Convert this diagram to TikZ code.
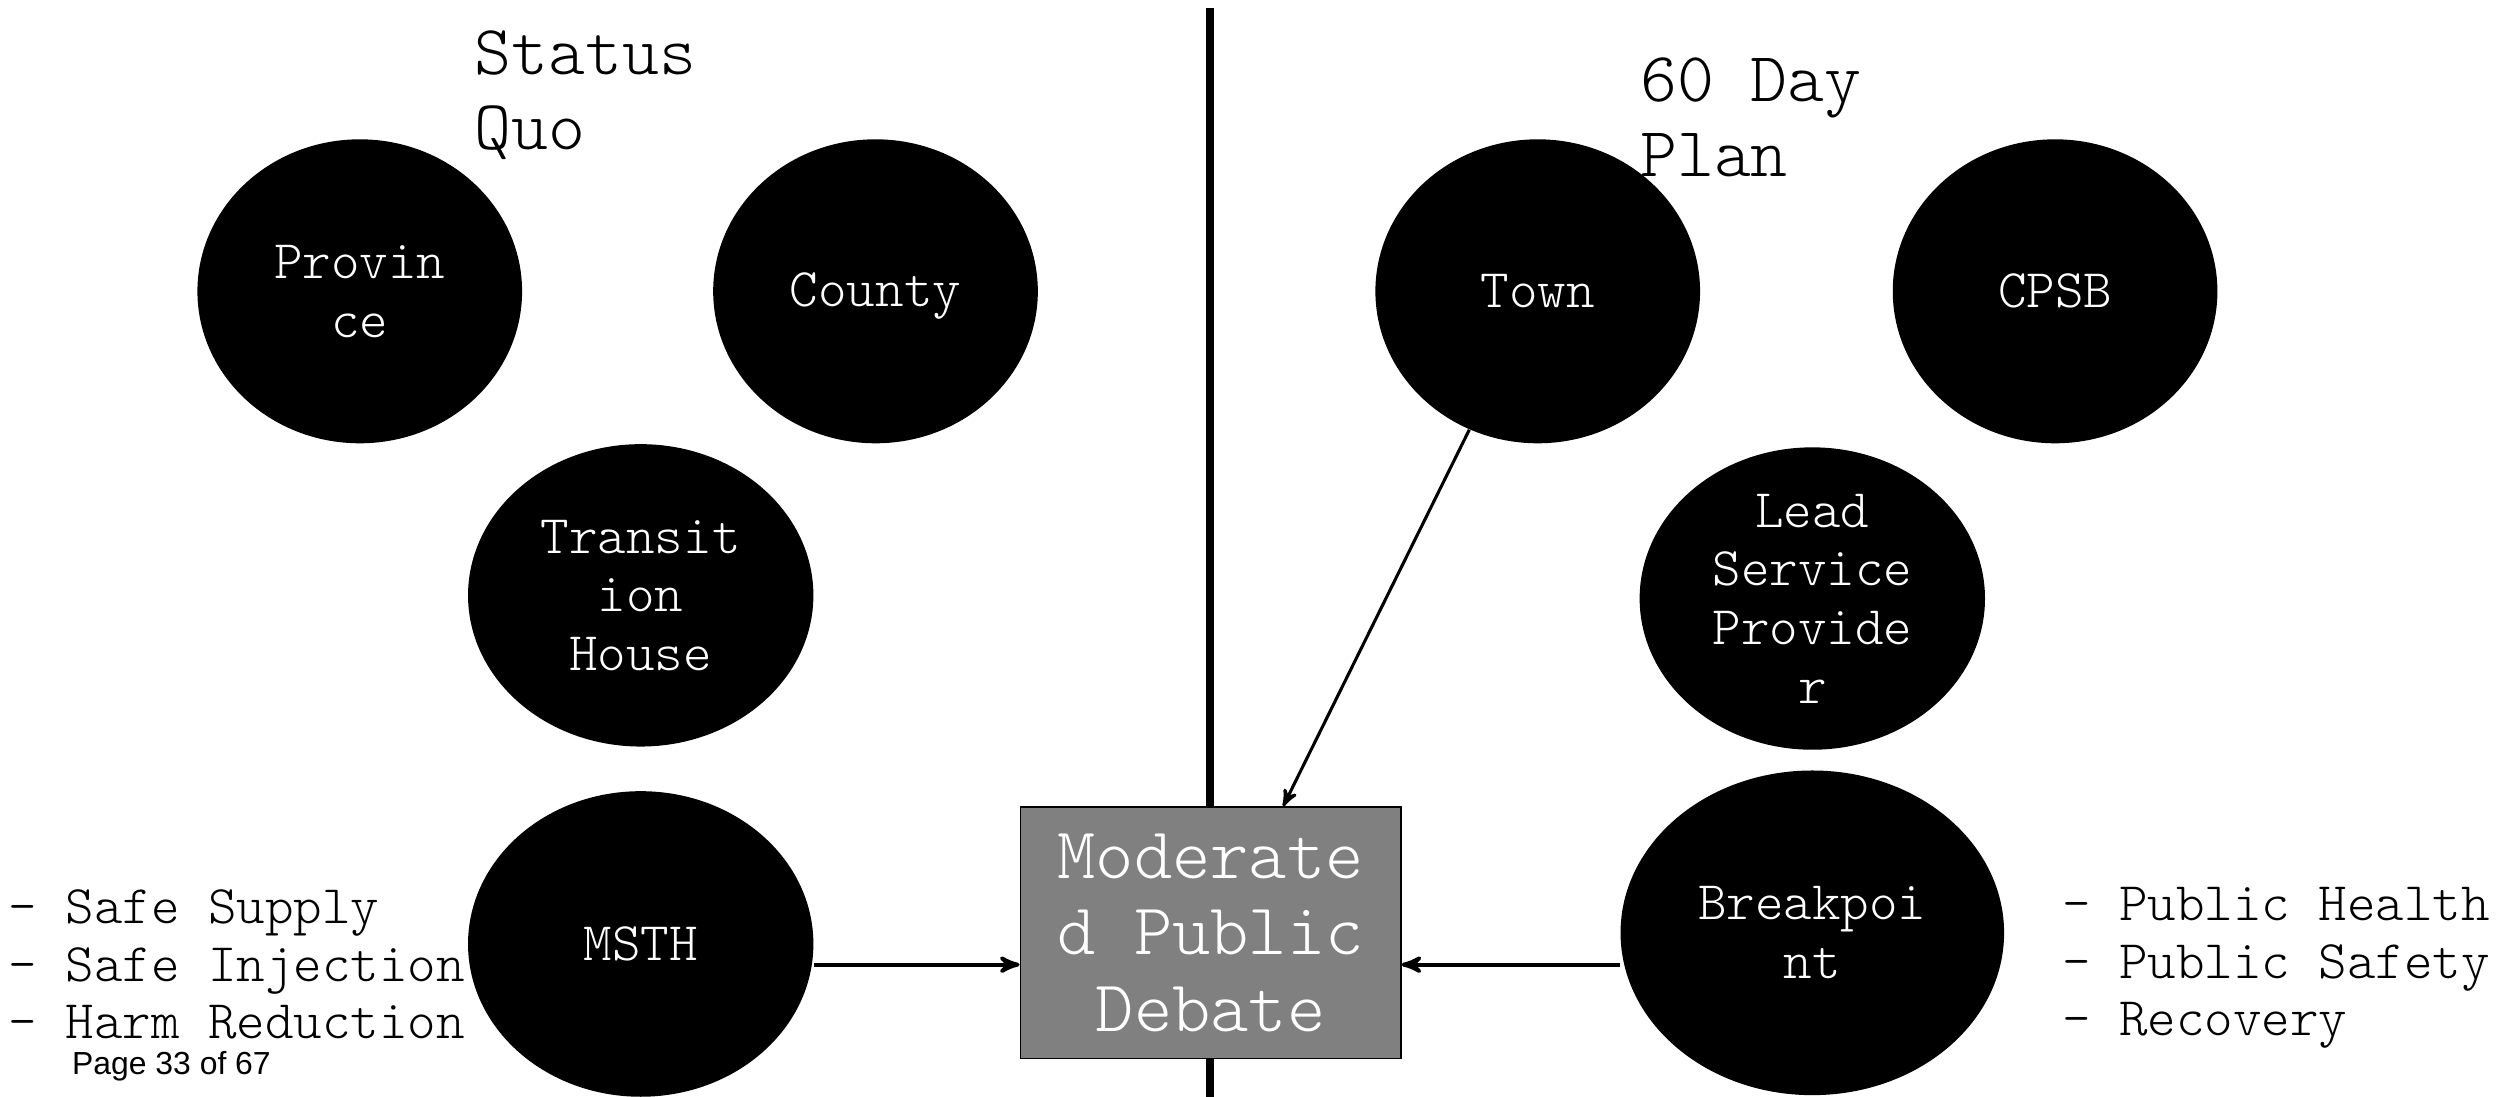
\documentclass[tikz,border=0pt]{standalone}
\usepackage{fontspec}
\setmonofont[Scale=1.143]{Latin Modern Mono Light}
\newfontfamily\pagefont{Liberation Sans}
\usetikzlibrary{shapes.geometric,arrows,calc,positioning}
\tikzset{
  party/.style   = {shape=ellipse, fill=black, inner sep=0pt,
                    minimum width=4.08cm, minimum height=3.82cm},
  wide/.style    = {party, minimum width=4.34cm, minimum height=3.8cm},
  inside/.style  = {text=white, align=center, inner sep=0pt,
                    font=\ttfamily\fontsize{17}{21}\selectfont},
  debate/.style  = {shape=rectangle, draw, line width=0.6pt, fill=gray,
                    text=white, align=center, inner sep=0pt,
                    minimum width=4.78cm, minimum height=3.16cm,
                    font=\ttfamily\fontsize{22.8}{27.3}\selectfont},
  heading/.style = {anchor=north west, align=left, inner sep=0pt,
                    font=\ttfamily\fontsize{22}{26.7}\selectfont},
  points/.style  = {anchor=west, align=left, inner sep=0pt,
                    font=\ttfamily\fontsize{17}{20.5}\selectfont},
  link/.style    = {->, >=stealth', line width=1.4pt},
  divider/.style = {line width=2.8pt}
}
\begin{document}
\begin{tikzpicture}[x=0.02cm, y=-0.02cm]
\useasboundingbox (0,0) rectangle (1568,689);
% line between the two sides
\coordinate (top) at (760,5);
\coordinate (bottom) at (760,689);
\draw [divider] (top) -- (bottom);

% status quo
\node [heading] (sq) at (298,19) {Status\\Quo};
\node [party, label={[inside]center:Provin\\ce}] (province) at (226,183) {};
\node [party, label={[inside, yshift=-0.06cm]center:County}] (county) at (550,183) {};
\node [wide, label={[inside]center:Transit\\ion\\House}] (transition) at (402.5,374) {};
\node [wide, minimum height=3.84cm, label={[inside]center:MSTH}] (msth) at (402.5,593) {};
\node [points] (harm) at (5,606) {- Safe Supply\\- Safe Injection\\- Harm Reduction};

% 60 day plan
\node [heading] (plan) at (1030,36) {60 Day\\Plan};
\node [party, label={[inside]center:Town}] (town) at (966,183) {};
\node [party, label={[inside]center:CPSB}] (cpsb) at (1291,183) {};
\node [wide, label={[inside]center:Lead\\Service\\Provide\\r}] (lead) at (1138.5,376) {};
\node [party, minimum width=4.82cm, minimum height=4.08cm,
       label={[inside]center:Breakpoi\\nt}] (breakpoint) at (1138.5,586) {};
\node [points] (public) at (1295,608) {- Public Health\\- Public Safety\\- Recovery};

% the debate in the middle
\node [debate] (debate) at (760.5,586) {Moderate\\d Public\\Debate};
\coordinate (fromleft) at ([yshift=-0.4cm]debate.west);
\coordinate (fromright) at ([yshift=-0.4cm]debate.east);
\coordinate (fromtop) at ($(debate.north west)!0.69!(debate.north east)$);
\draw [link] (msth.east |- fromleft) -- (fromleft);
\draw [link] (breakpoint.west |- fromright) -- (fromright);
\draw [link, line width=1.1pt] (town) -- (fromtop);

\node [anchor=base west, inner sep=0pt, font=\pagefont\fontsize{11.4}{13}\selectfont]
  (page) at (45,675) {Page 33 of 67};
\end{tikzpicture}
\end{document}
